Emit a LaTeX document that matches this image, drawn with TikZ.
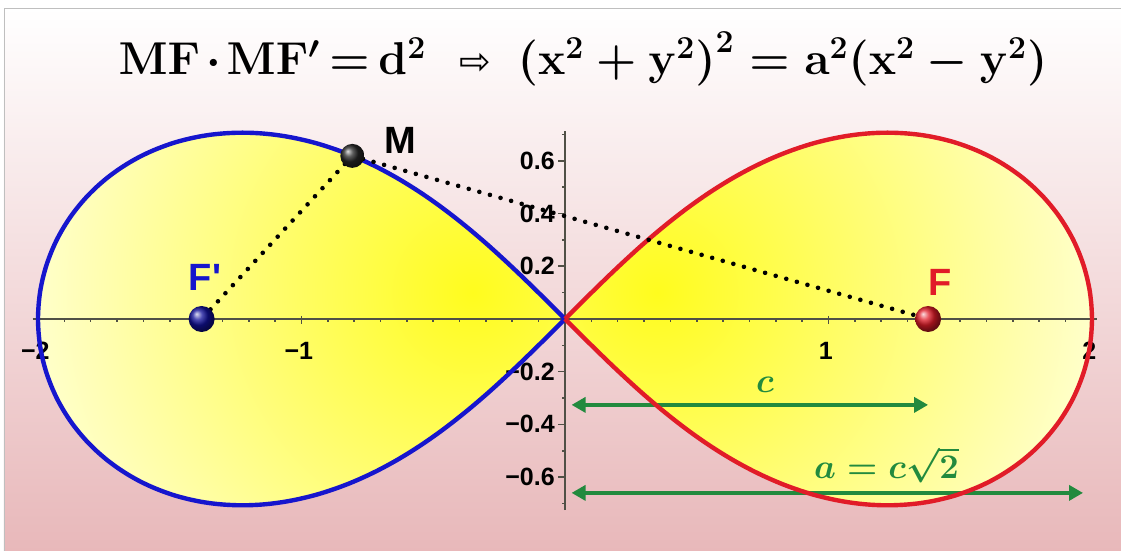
\documentclass[tikz,border=0pt]{standalone}
\usepackage{fontspec}
\newfontfamily\labelfont{Liberation Sans}
\newfontfamily\symbolfont{DejaVu Sans}
\usetikzlibrary{arrows.meta}

\definecolor{bgpink}{RGB}{232,184,186}
\definecolor{lobeblue}{RGB}{22,22,205}
\definecolor{lobered}{RGB}{225,28,40}
\definecolor{lobeyellow}{RGB}{255,252,30}
\definecolor{paleyellow}{RGB}{255,255,222}
\definecolor{measuregreen}{RGB}{34,138,62}
\definecolor{axisgray}{RGB}{80,80,70}

\newcommand{\lobe}[1]{plot[domain=#1,samples=121,smooth,variable=\t]
  ({2*cos(\t)/(1+sin(\t)*sin(\t))},{2*sin(\t)*cos(\t)/(1+sin(\t)*sin(\t))})}

\tikzset{
  lobeline/.style={line width=2.2pt,line join=round},
  focus/.style={circle,minimum size=13pt,inner sep=0pt},
  pointlabel/.style={font=\labelfont\bfseries\fontsize{19}{19}\selectfont,inner sep=0pt},
  ticklabel/.style={font=\labelfont\bfseries\fontsize{12.5}{13}\selectfont,inner sep=1pt},
  tickline/.style={axisgray,line width=0.8pt},
  measure/.style={draw=measuregreen,line width=2pt,
    {Triangle[length=7pt,width=7.5pt]}-{Triangle[length=7pt,width=7.5pt]}},
  chord/.style={line width=2.3pt,line cap=round,dash pattern=on 0pt off 5.5pt},
  greenlabel/.style={text=measuregreen,font=\fontsize{17.28}{19}\selectfont\boldmath,inner sep=0pt}
}

\begin{document}
\begin{tikzpicture}[x=131.75pt,y=131.75pt]
  % background
  \coordinate (tl) at (-2.1442,1.2106);
  \coordinate (br) at (2.1101,-0.8805);
  \useasboundingbox (tl) rectangle (br);
  \fill[white] (tl) rectangle (br);
  \shade[top color=white,middle color=bgpink!40!white,bottom color=bgpink]
    (-2.129,1.180) rectangle (br);
  \draw[black!25] (-2.129,-0.8805) |- (2.1101,1.180);

  % yellow inside the two lobes
  \begin{scope}
    \clip \lobe{90:270} -- cycle;
    \shade[inner color=lobeyellow,outer color=paleyellow] (-0.35,0.1) circle (1.85);
  \end{scope}
  \begin{scope}
    \clip \lobe{-90:90} -- cycle;
    \shade[inner color=lobeyellow,outer color=paleyellow] (0.35,0.1) circle (1.85);
  \end{scope}

  % axes
  \coordinate (xmin) at (-2.02,0);
  \coordinate (xmax) at (2.02,0);
  \coordinate (ymin) at (0,-0.725);
  \coordinate (ymax) at (0,0.713);
  \draw[axisgray,line width=1pt] (xmin) -- (xmax);
  \draw[axisgray,line width=1pt] (ymin) -- (ymax);
  \foreach \i in {-20,...,20}
    \draw[tickline] (\i/10,0) -- ++(0,-0.012);
  \foreach \i in {-2,-1,1,2}
    \draw[tickline] (\i,0.012) -- ++(0,-0.032);
  \foreach \i in {-7,...,7}
    \draw[tickline] (0,\i/10) -- ++(-0.012,0);
  \foreach \i in {-6,-4,-2,2,4,6}
    \draw[tickline] (0,\i/10) -- ++(-0.025,0);
  \foreach \v/\txt [count=\k] in {-2/−2,-1/−1,1/1,2/2}
    \node[ticklabel] (xlab\k) at (\v-0.01,-0.12) {\txt};
  \foreach \v/\txt [count=\k] in {0.6/0.6,0.4/0.4,0.2/0.2,-0.2/−0.2,-0.4/−0.4,-0.6/−0.6}
    \node[ticklabel,anchor=east] (ylab\k) at (-0.03,\v) {\txt};

  % c and a
  \coordinate (c0) at (0.025,-0.326);
  \coordinate (c1) at (1.378,-0.326);
  \coordinate (a0) at (0.025,-0.66);
  \coordinate (a1) at (1.966,-0.66);
  \draw[measure] (c0) -- (c1);
  \draw[measure] (a0) -- (a1);
  \node[greenlabel] (clab) at (0.759,-0.25) {$c$};
  \node[greenlabel] (alab) at (1.22,-0.554) {$a=c\sqrt{2}$};

  % lemniscate
  \draw[lobeline,lobeblue] \lobe{90:270};
  \draw[lobeline,lobered] \lobe{-90:90};

  % M, F, F'
  \coordinate (M) at (-0.807,0.619);
  \coordinate (F) at (1.378,0);
  \coordinate (Fp) at (-1.379,0);
  \draw[chord] (M) -- (F);
  \draw[chord] (M) -- (Fp);
  \node[focus,ball color=black!85,minimum size=12pt] (Mpt) at (M) {};
  \node[focus,ball color=lobered] (Fpt) at (F) {};
  \node[focus,ball color=lobeblue!75!black] (Fppt) at (Fp) {};
  \node[pointlabel] (Mlab) at (-0.626,0.679) {M};
  \node[pointlabel,text=lobered] (Flab) at (1.423,0.137) {F};
  \node[pointlabel,text=lobeblue] (Fplab) at (-1.366,0.156) {F\textquotesingle};

  % title
  \node[font=\fontsize{20.74}{25}\selectfont\boldmath,anchor=base] (title) at (0.068,0.926)
    {\scalebox{1.11}{$\mathbf{MF}\mkern2mu{\cdot}\mkern2mu\mathbf{MF'}\mathrel{\mkern-2mu=\mkern-2mu}\mathbf{d^2}$\hspace{15pt}%
     {\symbolfont\fontsize{17}{17}\selectfont ⇨}\hspace{12pt}%
     $\bigl(\mathbf{x^2+y^2}\bigr)^{\mathbf{2}}=\mathbf{a^2(x^2-y^2)}$}};
\end{tikzpicture}
\end{document}
